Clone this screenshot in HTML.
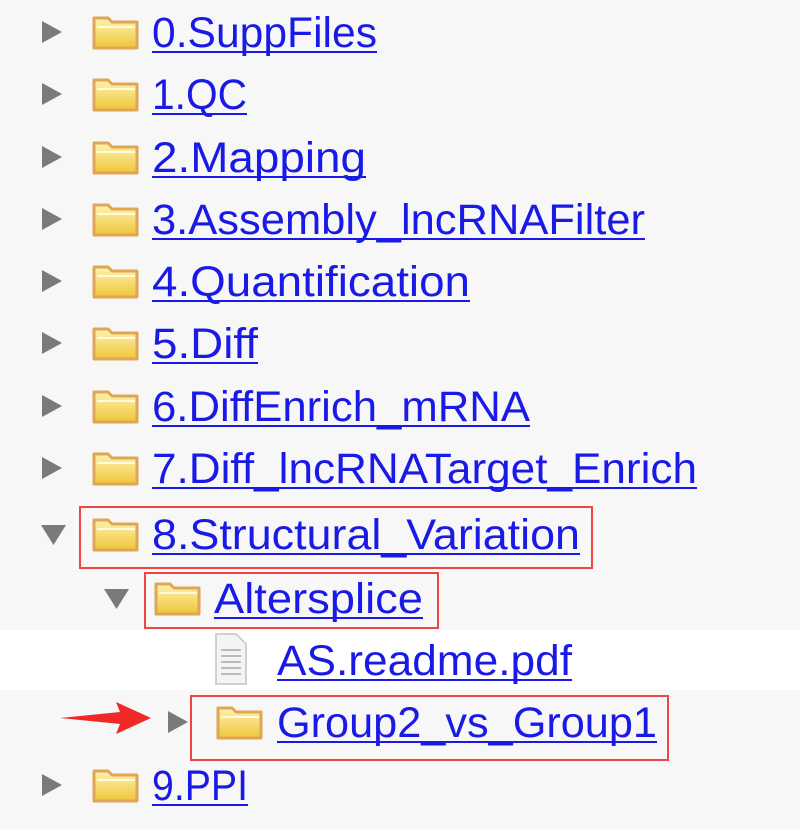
<!DOCTYPE html>
<html><head><style>
html,body{margin:0;padding:0;background:#f7f7f7;}
svg{display:block}
text{font-family:"Liberation Sans",sans-serif;font-size:43px;fill:#1a1ae6;}
</style></head><body>
<svg width="800" height="829" viewBox="0 0 800 829" xmlns="http://www.w3.org/2000/svg">
<defs>
<linearGradient id="fg" x1="0" y1="0" x2="0" y2="1">
<stop offset="0" stop-color="#fdf3b0"/><stop offset="1" stop-color="#f0c63a"/></linearGradient>
<g id="fold">
<path d="M0,-14 h14 l4,4 h25 v26 h-43 z" fill="url(#fg)" stroke="#e0a656" stroke-width="3" stroke-linejoin="round"/>
<path d="M3,-5 h38" stroke="#fffbe0" stroke-width="2"/>
</g>
<path id="tr" d="M0,-11 L20,0 L0,11 z" fill="#7a7a7a"/>
<path id="td" d="M0,-9 L25,-9 L12.5,11 z" fill="#7a7a7a"/>
</defs>
<rect x="0" y="630" width="800" height="60" fill="#ffffff"/>
<g>
<use href="#tr" x="42" y="32"/><use href="#fold" x="94" y="32"/>
<text x="152" y="47" textLength="225" lengthAdjust="spacingAndGlyphs">0.SuppFiles</text><rect x="152" y="51" width="225" height="2" fill="#1a1ae6"/>
<use href="#tr" x="42" y="94"/><use href="#fold" x="94" y="94"/>
<text x="152" y="109" textLength="95" lengthAdjust="spacingAndGlyphs">1.QC</text><rect x="152" y="113" width="95" height="2" fill="#1a1ae6"/>
<use href="#tr" x="42" y="157"/><use href="#fold" x="94" y="157"/>
<text x="152" y="172" textLength="214" lengthAdjust="spacingAndGlyphs">2.Mapping</text><rect x="152" y="176" width="214" height="2" fill="#1a1ae6"/>
<use href="#tr" x="42" y="219"/><use href="#fold" x="94" y="219"/>
<text x="152" y="234" textLength="493" lengthAdjust="spacingAndGlyphs">3.Assembly_lncRNAFilter</text><rect x="152" y="238" width="493" height="2" fill="#1a1ae6"/>
<use href="#tr" x="42" y="281"/><use href="#fold" x="94" y="281"/>
<text x="152" y="296" textLength="318" lengthAdjust="spacingAndGlyphs">4.Quantification</text><rect x="152" y="300" width="318" height="2" fill="#1a1ae6"/>
<use href="#tr" x="42" y="343"/><use href="#fold" x="94" y="343"/>
<text x="152" y="358" textLength="106" lengthAdjust="spacingAndGlyphs">5.Diff</text><rect x="152" y="362" width="106" height="2" fill="#1a1ae6"/>
<use href="#tr" x="42" y="406"/><use href="#fold" x="94" y="406"/>
<text x="152" y="421" textLength="378" lengthAdjust="spacingAndGlyphs">6.DiffEnrich_mRNA</text><rect x="152" y="425" width="378" height="2" fill="#1a1ae6"/>
<use href="#tr" x="42" y="468"/><use href="#fold" x="94" y="468"/>
<text x="152" y="483" textLength="545" lengthAdjust="spacingAndGlyphs">7.Diff_lncRNATarget_Enrich</text><rect x="152" y="487" width="545" height="2" fill="#1a1ae6"/>
<use href="#td" x="41" y="534"/><use href="#fold" x="94" y="534"/>
<text x="152" y="549" textLength="428" lengthAdjust="spacingAndGlyphs">8.Structural_Variation</text><rect x="152" y="553" width="428" height="2" fill="#1a1ae6"/>
<use href="#td" x="104" y="598"/><use href="#fold" x="156" y="598"/>
<text x="214" y="613" textLength="209" lengthAdjust="spacingAndGlyphs">Altersplice</text><rect x="214" y="617" width="209" height="2" fill="#1a1ae6"/>
<path d="M216,634 h20 l10,10 v40 h-30 z" fill="#f4f4f4" stroke="#d0d0d0" stroke-width="2"/>
<path d="M221,650 h20 M221,656 h20 M221,662 h20 M221,668 h20 M221,674 h20" stroke="#bbb" stroke-width="2"/>
<text x="277" y="675" textLength="295" lengthAdjust="spacingAndGlyphs">AS.readme.pdf</text><rect x="277" y="679" width="295" height="2" fill="#1a1ae6"/>
<use href="#tr" x="168" y="722"/><use href="#fold" x="218" y="722"/>
<text x="277" y="737" textLength="380" lengthAdjust="spacingAndGlyphs">Group2_vs_Group1</text><rect x="277" y="741" width="380" height="2" fill="#1a1ae6"/>
<use href="#tr" x="42" y="785"/><use href="#fold" x="94" y="785"/>
<text x="152" y="800" textLength="96" lengthAdjust="spacingAndGlyphs">9.PPI</text><rect x="152" y="804" width="96" height="2" fill="#1a1ae6"/>
</g>
<rect x="80" y="507" width="512" height="61" fill="none" stroke="#ee4444" stroke-width="2"/>
<rect x="145" y="573" width="293" height="55" fill="none" stroke="#ee4444" stroke-width="2"/>
<rect x="191" y="696" width="477" height="64" fill="none" stroke="#ee4444" stroke-width="2"/>
<path d="M60,718 L120,712 L116,702 L151,718 L116,734 L120,724 z" fill="#f02828"/>
</svg>
</body></html>
